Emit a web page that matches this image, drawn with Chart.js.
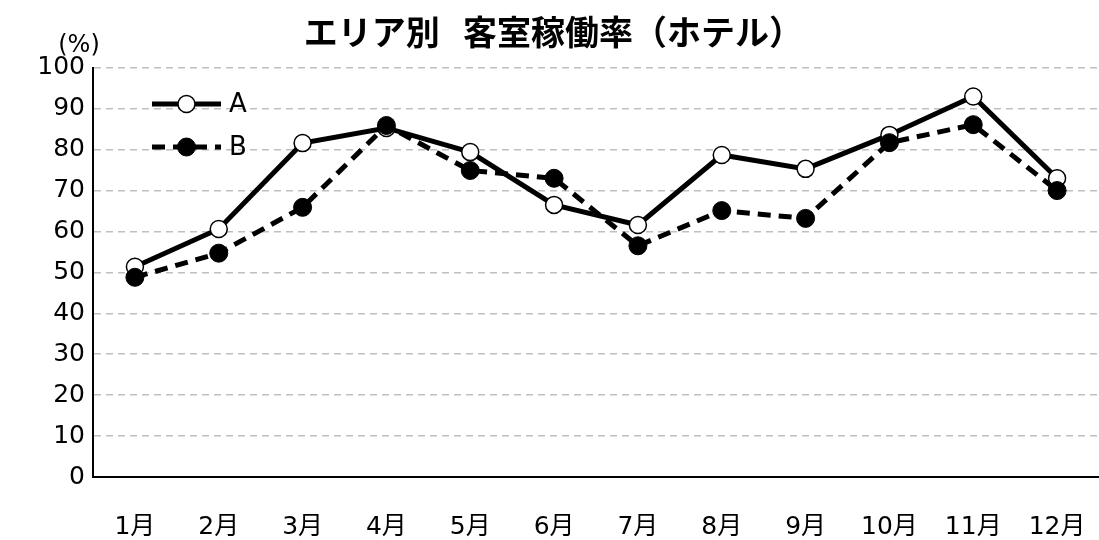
<!DOCTYPE html>
<html>
<head>
<meta charset="utf-8">
<script src="https://cdn.jsdelivr.net/npm/chart.js@4/dist/chart.umd.min.js"></script>
<style>
  html, body { margin: 0; padding: 0; background: #fff; }
  #wrap { width: 1099px; height: 540px; }
</style>
</head>
<body>
<div id="wrap"><canvas id="occupancyChart" width="1099" height="540"></canvas></div>
<script>
// data
const months = ['1月', '2月', '3月', '4月', '5月', '6月', '7月', '8月', '9月', '10月', '11月', '12月'];
const seriesA = [51.4, 60.6, 81.6, 85.3, 79.4, 66.5, 61.6, 78.7, 75.3, 83.6, 93.0, 73.0];
const seriesB = [48.8, 54.7, 65.9, 85.9, 74.9, 73.0, 56.5, 65.1, 63.2, 81.7, 86.1, 70.0];
const seriesNames = ['A', 'B'];
const yMin = 0, yMax = 100, yStep = 10;
const chartTitle = ' エリア別   客室稼働率（ホテル）';
const unitLabel = '(%)';

const tickFont = "'DejaVu Sans', 'Noto Sans CJK JP', sans-serif";

// legend drawn inside the plot, line sample + marker like the original
const insideLegend = {
    id: 'insideLegend',
    afterDatasetsDraw(chart) {
        const ctx = chart.ctx;
        const x0 = 152, x1 = 221;
        const rows = [104, 147];
        chart.data.datasets.forEach((ds, i) => {
            const y = rows[i];
            ctx.save();
            ctx.strokeStyle = ds.borderColor;
            ctx.lineWidth = ds.borderWidth;
            ctx.setLineDash(ds.borderDash || []);
            ctx.beginPath();
            ctx.moveTo(x0, y);
            ctx.lineTo(x1, y);
            ctx.stroke();
            ctx.setLineDash([]);
            ctx.beginPath();
            ctx.arc((x0 + x1) / 2, y, ds.pointRadius, 0, Math.PI * 2);
            ctx.fillStyle = ds.pointBackgroundColor;
            ctx.fill();
            ctx.lineWidth = ds.pointBorderWidth;
            ctx.strokeStyle = ds.pointBorderColor;
            ctx.stroke();
            ctx.fillStyle = '#000';
            ctx.font = "26px " + tickFont;
            ctx.textAlign = 'left';
            ctx.textBaseline = 'middle';
            ctx.fillText(ds.label, x1 + 8, y + 1);
            ctx.restore();
        });
    }
};

// "(%)" above the y axis
const unitText = {
    id: 'unitText',
    afterDraw(chart) {
        const ctx = chart.ctx;
        ctx.save();
        ctx.fillStyle = '#000';
        ctx.font = "24px " + tickFont;
        ctx.textAlign = 'center';
        ctx.textBaseline = 'middle';
        ctx.fillText(unitLabel, 79, 46);
        ctx.restore();
    }
};

const ctx = document.getElementById('occupancyChart').getContext('2d');
new Chart(ctx, {
    type: 'line',
    data: {
        labels: months,
        datasets: [{
            label: seriesNames[0],
            data: seriesA,
            borderColor: '#000',
            borderWidth: 5,
            pointRadius: 8.5,
            pointHoverRadius: 8.5,
            pointBackgroundColor: '#fff',
            pointBorderColor: '#000',
            pointBorderWidth: 1.5,
            fill: false,
            tension: 0,
            order: 1
        }, {
            label: seriesNames[1],
            data: seriesB,
            borderColor: '#000',
            borderWidth: 5,
            borderDash: [13, 8],
            pointRadius: 9,
            pointHoverRadius: 9,
            pointBackgroundColor: '#000',
            pointBorderColor: '#000',
            pointBorderWidth: 1,
            fill: false,
            tension: 0,
            order: 0
        }]
    },
    options: {
        responsive: false,
        animation: false,
        layout: { padding: 0, autoPadding: false },
        plugins: {
            legend: { display: false },
            tooltip: { enabled: false },
            title: {
                display: true,
                text: chartTitle,
                color: '#000',
                font: { family: "'Noto Sans CJK JP', sans-serif", size: 34, weight: 'bold' },
                padding: { top: 12, bottom: 15 }
            }
        },
        scales: {
            x: {
                offset: true,
                grid: { display: false, drawTicks: false },
                border: { display: true, color: '#000', width: 2 },
                ticks: {
                    color: '#000',
                    font: { family: tickFont, size: 25 },
                    padding: 35,
                    maxRotation: 0,
                    autoSkip: false
                },
                afterFit(scale) {
                    scale.height = 63;
                    scale.paddingLeft = 0;
                    scale.paddingRight = 0;
                }
            },
            y: {
                min: yMin,
                max: yMax,
                ticks: {
                    stepSize: yStep,
                    color: '#000',
                    font: { family: tickFont, size: 25 },
                    padding: 8
                },
                grid: {
                    color: '#bfbfbf',
                    lineWidth: 1.5,
                    drawTicks: false
                },
                border: { display: true, color: '#000', width: 2, dash: [7, 5] },
                afterFit(scale) { scale.width = 93; }
            }
        }
    },
    plugins: [insideLegend, unitText]
});
</script>
</body>
</html>
